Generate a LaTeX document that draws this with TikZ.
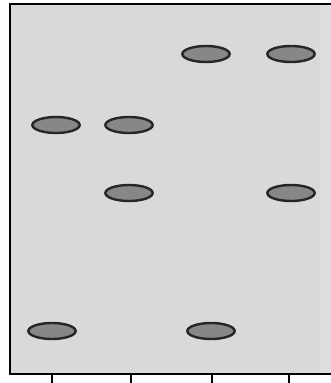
\documentclass[tikz,border=0pt]{standalone}
\usepackage{tikz}
\usetikzlibrary{
  shapes.geometric,
  calc
}

\begin{document}
\begin{tikzpicture}[x = 0.75pt, y = -0.75pt]
  \tikzset{band/.style = {ellipse, draw = black!85, line width = 1.8pt, fill = black!47, minimum width = 35.5pt, minimum height = 12pt, inner sep = 0pt}}

  \useasboundingbox (0,0) rectangle (331,383);

  % gel
  \fill[black!15] (10,4) rectangle (331,374);
  \fill[black!13] (320,5) rectangle (331,373);
  \draw[line width = 2.2pt] (331,4) -- (10,4) -- (10,374) -- (331,374);

  % bands
  \node[band] (b13) at (206,54) {};
  \node[band] (b14) at (291,54) {};
  \node[band] (b21) at (56,125) {};
  \node[band] (b22) at (129,125) {};
  \node[band] (b32) at (129,193) {};
  \node[band] (b34) at (291,193) {};
  \node[band] (b41) at (52,331) {};
  \node[band] (b43) at (211,331) {};

  % lanes
  \coordinate (lane1) at (52,374);
  \coordinate (lane2) at (131,374);
  \coordinate (lane3) at (212,374);
  \coordinate (lane4) at (289,374);
  \foreach \l in {lane1, lane2, lane3, lane4}
    \draw[line width = 1.3pt] (\l) --++ (0,10);
\end{tikzpicture}
\end{document}
